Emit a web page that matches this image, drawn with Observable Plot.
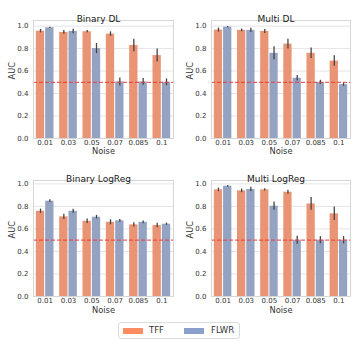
<!DOCTYPE html>
<html><head><meta charset="utf-8">
<script src="https://cdn.jsdelivr.net/npm/d3@7"></script>
<script src="https://cdn.jsdelivr.net/npm/@observablehq/plot@0.6"></script>
<style>
body{margin:0;background:#fff;font-family:"DejaVu Sans",sans-serif}
#chart{position:relative;width:359px;height:354px;overflow:hidden;background:#fff}
.panel{position:absolute}
.legend{position:absolute;left:118px;top:322px;width:122px;height:17px;border:1px solid #dcdcdc;border-radius:3px;box-sizing:border-box;font-size:8.5px;color:#333}
.sw{position:absolute;top:5px;width:20px;height:6px}
.lt{position:absolute;top:2px;line-height:11px}
</style></head>
<body><div id="chart"></div>
<script>
const noise = ["0.01","0.03","0.05","0.07","0.085","0.1"];
const models = ["TFF","FLWR"];
const barColors = ["#e99474","#95a3c3"];
const legendColors = ["#fc8d62","#8da0cb"];
const titles = ["Binary DL","Multi DL","Binary LogReg","Multi LogReg"];

const binaryDL_TFF     = [0.955,0.944,0.950,0.929,0.828,0.738];
const binaryDL_TFFerr  = [0.015,0.016,0.010,0.020,0.055,0.058];
const binaryDL_FLWR    = [0.985,0.953,0.800,0.503,0.503,0.500];
const binaryDL_FLWRerr = [0.006,0.020,0.045,0.035,0.030,0.030];

const multiDL_TFF      = [0.965,0.962,0.953,0.840,0.758,0.689];
const multiDL_TFFerr   = [0.018,0.012,0.018,0.043,0.047,0.047];
const multiDL_FLWR     = [0.991,0.962,0.758,0.536,0.500,0.479];
const multiDL_FLWRerr  = [0.006,0.018,0.058,0.024,0.018,0.015];

const binaryLR_TFF     = [0.757,0.707,0.668,0.659,0.636,0.630];
const binaryLR_TFFerr  = [0.019,0.024,0.020,0.022,0.018,0.020];
const binaryLR_FLWR    = [0.846,0.757,0.704,0.672,0.659,0.642];
const binaryLR_FLWRerr = [0.012,0.018,0.016,0.012,0.012,0.010];

const multiLR_TFF      = [0.947,0.938,0.947,0.926,0.822,0.734];
const multiLR_TFFerr   = [0.016,0.016,0.010,0.018,0.056,0.060];
const multiLR_FLWR     = [0.979,0.950,0.802,0.500,0.500,0.500];
const multiLR_FLWRerr  = [0.006,0.020,0.037,0.035,0.032,0.032];

const yTicks = [0,0.2,0.4,0.6,0.8,1.0];
const chance = [0.5];

function panel(title, series, o){
  const rows = [];
  noise.forEach((n,i)=>{
    series.forEach((s,k)=>{
      rows.push({noise:n, model:models[k],
        x1: i - 0.4 + 0.4*k, x2: i + 0.4*k, xm: i - 0.2 + 0.4*k,
        auc: s.v[i], err: s.e[i]});
    });
  });
  return Plot.plot({
    width:179, height:160,
    marginLeft:o.ml, marginRight:o.mr, marginTop:20, marginBottom:o.mb,
    style:{fontFamily:"DejaVu Sans", fontSize:"7px", color:"#333", background:"transparent", overflow:"visible"},
    x:{type:"linear", domain:[-0.5,5.5]},
    y:{domain:[0,o.ymax]},
    color:{domain:models, range:barColors},
    marks:[
      Plot.gridY(yTicks,{stroke:"#e4e4e4", strokeOpacity:1}),
      Plot.rectY(rows,{x1:"x1",x2:"x2",y:"auc",fill:"model",insetLeft:0.5,insetRight:0.5}),
      Plot.ruleX(rows,{x:"xm",y1:d=>d.auc-d.err,y2:d=>d.auc+d.err,stroke:"#444",strokeWidth:1.3}),
      Plot.ruleY(chance,{stroke:"#f03a3a",strokeDasharray:"4,2",strokeWidth:1.2,strokeOpacity:0.8}),
      Plot.frame({stroke:"#d6d6d6"}),
      Plot.axisY({ticks:yTicks, tickFormat:".1f", tickSize:0, tickPadding:5, label:null, fontSize:7}),
      Plot.axisX({ticks:d3.range(noise.length), tickFormat:i=>noise[i], tickSize:0, tickPadding:2, label:null, fontSize:7}),
      Plot.text(["Noise"],{text:d=>d, frameAnchor:"bottom", dy:o.ndy, fontSize:8.3, fill:"#333"}),
      Plot.text(["AUC"],{text:d=>d, frameAnchor:"left", rotate:-90, dx:-21, fontSize:8.3, fill:"#333"}),
      Plot.text([title],{text:d=>d, frameAnchor:"top", dy:-5, dx:-5, fontSize:9, fill:"#222"})
    ]
  });
}

const chart = document.getElementById("chart");
const specs = [
  {title:titles[0], s:[{v:binaryDL_TFF,e:binaryDL_TFFerr},{v:binaryDL_FLWR,e:binaryDL_FLWRerr}], left:0, top:0, o:{ml:33,mr:6,mb:22,ymax:1.05,ndy:15.5}},
  {title:titles[1], s:[{v:multiDL_TFF,e:multiDL_TFFerr},{v:multiDL_FLWR,e:multiDL_FLWRerr}], left:179, top:0, o:{ml:32,mr:8,mb:22,ymax:1.05,ndy:15.5}},
  {title:titles[2], s:[{v:binaryLR_TFF,e:binaryLR_TFFerr},{v:binaryLR_FLWR,e:binaryLR_FLWRerr}], left:0, top:160, o:{ml:33,mr:6,mb:24,ymax:1.03,ndy:16}},
  {title:titles[3], s:[{v:multiLR_TFF,e:multiLR_TFFerr},{v:multiLR_FLWR,e:multiLR_FLWRerr}], left:179, top:160, o:{ml:32,mr:8,mb:24,ymax:1.03,ndy:16}}
];
for (const sp of specs){
  const d = document.createElement("div");
  d.className = "panel";
  d.style.left = sp.left + "px";
  d.style.top = sp.top + "px";
  d.appendChild(panel(sp.title, sp.s, sp.o));
  chart.appendChild(d);
}

const leg = document.createElement("div");
leg.className = "legend";
const swX = [4, 65], txX = [30, 92];
models.forEach((m,k)=>{
  const sw = document.createElement("div");
  sw.className = "sw"; sw.style.left = swX[k]+"px"; sw.style.background = legendColors[k];
  const t = document.createElement("div");
  t.className = "lt"; t.style.left = txX[k]+"px"; t.textContent = m;
  leg.appendChild(sw); leg.appendChild(t);
});
chart.appendChild(leg);
</script>
</body></html>
